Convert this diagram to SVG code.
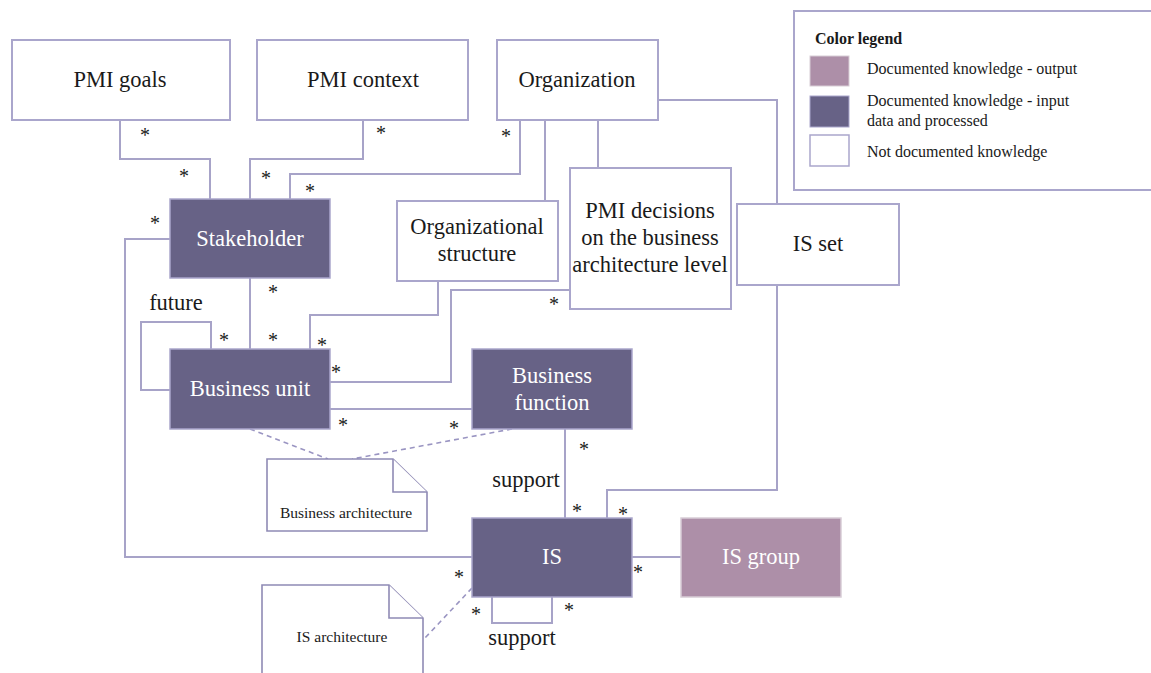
<svg xmlns="http://www.w3.org/2000/svg" width="1151" height="673" viewBox="0 0 1151 673">
  <style>
    .box { fill: #ffffff; stroke: #aaa6cc; stroke-width: 2; }
    .dark { fill: #676286; stroke: #aaa6cc; stroke-width: 1.5; }
    .pink { fill: #ad8fa8; stroke: #d8cdd6; stroke-width: 1.5; }
    .note { fill: #ffffff; stroke: #8f8ab5; stroke-width: 1.6; }
    .link { fill: none; stroke: #a7a3c8; stroke-width: 2; }
    .dash { fill: none; stroke: #9a95c2; stroke-width: 1.6; stroke-dasharray: 5 4; }
    text { font-family: "Liberation Serif", "Times New Roman", serif; }
    .lbl { font-size: 22.5px; fill: #1a1a1a; text-anchor: middle; }
    .wlbl { font-size: 22.5px; fill: #ffffff; text-anchor: middle; }
    .small { font-size: 15.5px; fill: #1a1a1a; text-anchor: middle; }
    .star { font-size: 20px; fill: #1a1a1a; text-anchor: middle; }
    .leg { font-size: 16px; fill: #1a1a1a; }
  </style>

  <!-- connectors -->
  <g id="connectors">
    <polyline class="link" points="120,120 120,159 210,159 210,199"/>
    <polyline class="link" points="363,120 363,159 250,159 250,199"/>
    <polyline class="link" points="520,120 520,174 290,174 290,199"/>
    <polyline class="link" points="545,120 545,201"/>
    <polyline class="link" points="598,120 598,168"/>
    <polyline class="link" points="658,100 777,100 777,205"/>
    <polyline class="link" points="438,281 438,315 310,315 310,349"/>
    <polyline class="link" points="570,290 451,290 451,382 330,382"/>
    <polyline class="link" points="250,278 250,349"/>
    <polyline class="link" points="211,349 211,322 141,322 141,390 170,390"/>
    <polyline class="link" points="170,239 125,239 125,557 472,557"/>
    <polyline class="link" points="330,409 472,409"/>
    <polyline class="link" points="565,429 565,518"/>
    <polyline class="link" points="777,285 777,490 607,490 607,518"/>
    <polyline class="link" points="632,557 681,557"/>
    <polyline class="link" points="492,597 492,623 552,623 552,597"/>
    <line class="dash" x1="250" y1="429" x2="328" y2="459"/>
    <line class="dash" x1="512" y1="429" x2="352" y2="459"/>
    <line class="dash" x1="472" y1="588" x2="425" y2="638"/>
  </g>

  <!-- multiplicities and association labels -->
  <g id="multiplicities">
    <text class="star" x="145" y="142">*</text>
    <text class="star" x="184" y="183">*</text>
    <text class="star" x="266" y="185">*</text>
    <text class="star" x="381" y="140">*</text>
    <text class="star" x="310" y="198">*</text>
    <text class="star" x="506" y="143">*</text>
    <text class="star" x="155" y="230">*</text>
    <text class="star" x="273" y="299">*</text>
    <text class="star" x="273" y="347">*</text>
    <text class="star" x="224" y="347">*</text>
    <text class="star" x="322" y="352">*</text>
    <text class="star" x="336" y="379">*</text>
    <text class="star" x="554" y="311">*</text>
    <text class="star" x="343" y="432">*</text>
    <text class="star" x="454" y="435">*</text>
    <text class="star" x="584" y="456">*</text>
    <text class="star" x="577" y="518">*</text>
    <text class="star" x="623" y="521">*</text>
    <text class="star" x="638" y="579">*</text>
    <text class="star" x="459" y="584">*</text>
    <text class="star" x="476" y="621">*</text>
    <text class="star" x="569" y="617">*</text>
    <text class="lbl" x="176" y="310">future</text>
    <text class="lbl" x="526" y="487">support</text>
    <text class="lbl" x="522" y="645">support</text>
  </g>

  <g id="pmi-goals">
    <rect class="box" x="12" y="40" width="218" height="80"/>
    <text class="lbl" x="120" y="87">PMI goals</text>
  </g>
  <g id="pmi-context">
    <rect class="box" x="257" y="40" width="211" height="80"/>
    <text class="lbl" x="363" y="87">PMI context</text>
  </g>
  <g id="organization">
    <rect class="box" x="497" y="40" width="161" height="80"/>
    <text class="lbl" x="577" y="87">Organization</text>
  </g>
  <g id="stakeholder">
    <rect class="dark" x="170" y="199" width="160" height="79"/>
    <text class="wlbl" x="250" y="246">Stakeholder</text>
  </g>
  <g id="organizational-structure">
    <rect class="box" x="397" y="201" width="161" height="80"/>
    <text class="lbl" x="477" y="234">Organizational</text>
    <text class="lbl" x="477" y="261">structure</text>
  </g>
  <g id="pmi-decisions">
    <rect class="box" x="570" y="168" width="161" height="141"/>
    <text class="lbl" x="650" y="218">PMI decisions</text>
    <text class="lbl" x="650" y="245">on the business</text>
    <text class="lbl" x="650" y="272">architecture level</text>
  </g>
  <g id="is-set">
    <rect class="box" x="737" y="204" width="162" height="81"/>
    <text class="lbl" x="818" y="251">IS set</text>
  </g>
  <g id="business-unit">
    <rect class="dark" x="170" y="349" width="160" height="80"/>
    <text class="wlbl" x="250" y="396">Business unit</text>
  </g>
  <g id="business-function">
    <rect class="dark" x="472" y="349" width="160" height="80"/>
    <text class="wlbl" x="552" y="383">Business</text>
    <text class="wlbl" x="552" y="410">function</text>
  </g>
  <g id="is">
    <rect class="dark" x="472" y="518" width="160" height="79"/>
    <text class="wlbl" x="552" y="564">IS</text>
  </g>
  <g id="is-group">
    <rect class="pink" x="681" y="518" width="160" height="79"/>
    <text class="wlbl" x="761" y="564">IS group</text>
  </g>
  <g id="business-architecture">
    <path class="note" d="M267,459 H393 L427,492 V531 H267 Z"/>
    <polyline class="note" fill="none" points="393,459 393,492 427,492"/>
    <text class="small" x="346" y="518">Business architecture</text>
  </g>
  <g id="is-architecture">
    <path class="note" d="M262,676 V585 H389 L423,618 V676"/>
    <polyline class="note" fill="none" points="389,585 389,618 423,618"/>
    <text class="small" x="342" y="642">IS architecture</text>
  </g>

  <g id="legend">
    <rect class="box" x="794" y="11" width="370" height="179"/>
    <text x="815" y="44" style="font-size:16px;font-weight:bold;fill:#1a1a1a">Color legend</text>
    <rect x="810" y="56" width="39" height="30" fill="#ad8fa8" stroke="#d8cdd6" stroke-width="1"/>
    <text class="leg" x="867" y="74">Documented knowledge - output</text>
    <rect x="810" y="96" width="39" height="31" fill="#676286" stroke="#aaa6cc" stroke-width="1"/>
    <text class="leg" x="867" y="106">Documented knowledge - input</text>
    <text class="leg" x="867" y="126">data and processed</text>
    <rect x="810" y="135" width="39" height="31" fill="#ffffff" stroke="#aaa6cc" stroke-width="1.5"/>
    <text class="leg" x="867" y="157">Not documented knowledge</text>
  </g>
</svg>
